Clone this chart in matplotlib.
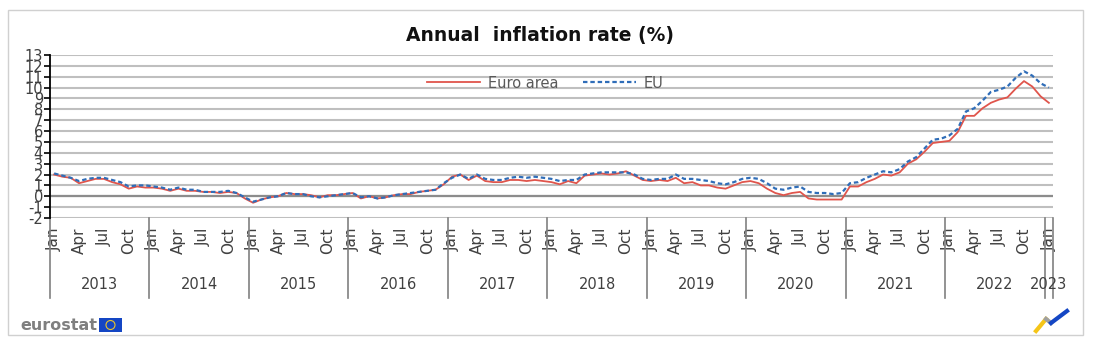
import matplotlib
matplotlib.use("Agg")
import matplotlib.pyplot as plt
from matplotlib.patches import Rectangle, Ellipse
from matplotlib.lines import Line2D

plt.rcParams["axes.unicode_minus"] = False

# annual HICP inflation, Jan 2013 - Jan 2023
years = [2013, 2014, 2015, 2016, 2017, 2018, 2019, 2020, 2021, 2022, 2023]
month_names = ["Jan", "Apr", "Jul", "Oct"]

euro_area = [
    2.0, 1.8, 1.7, 1.2, 1.4, 1.6, 1.6, 1.3, 1.1, 0.7, 0.9, 0.8,
    0.8, 0.7, 0.5, 0.7, 0.5, 0.5, 0.4, 0.4, 0.3, 0.4, 0.3, -0.2,
    -0.6, -0.3, -0.1, 0.0, 0.3, 0.2, 0.2, 0.1, -0.1, 0.1, 0.1, 0.2,
    0.3, -0.2, 0.0, -0.2, -0.1, 0.1, 0.2, 0.2, 0.4, 0.5, 0.6, 1.1,
    1.8, 2.0, 1.5, 1.9, 1.4, 1.3, 1.3, 1.5, 1.5, 1.4, 1.5, 1.4,
    1.3, 1.1, 1.4, 1.2, 1.9, 2.0, 2.1, 2.0, 2.1, 2.3, 1.9, 1.5,
    1.4, 1.5, 1.4, 1.7, 1.2, 1.3, 1.0, 1.0, 0.8, 0.7, 1.0, 1.3,
    1.4, 1.2, 0.7, 0.3, 0.1, 0.3, 0.4, -0.2, -0.3, -0.3, -0.3, -0.3,
    0.9, 0.9, 1.3, 1.6, 2.0, 1.9, 2.2, 3.0, 3.4, 4.1, 4.9, 5.0,
    5.1, 5.9, 7.4, 7.4, 8.1, 8.6, 8.9, 9.1, 9.9, 10.6, 10.1, 9.2,
    8.6,
]
eu = [
    2.1, 1.9, 1.7, 1.4, 1.6, 1.7, 1.7, 1.5, 1.3, 0.9, 1.0, 1.0,
    0.9, 0.8, 0.6, 0.8, 0.6, 0.6, 0.4, 0.4, 0.4, 0.5, 0.3, -0.1,
    -0.5, -0.3, -0.1, 0.0, 0.3, 0.2, 0.2, 0.0, -0.1, 0.0, 0.1, 0.2,
    0.3, -0.1, 0.0, -0.2, -0.1, 0.1, 0.2, 0.3, 0.4, 0.5, 0.6, 1.2,
    1.7, 2.0, 1.6, 2.0, 1.6, 1.5, 1.5, 1.7, 1.8, 1.7, 1.8, 1.7,
    1.6, 1.4, 1.5, 1.5, 2.0, 2.1, 2.2, 2.2, 2.2, 2.2, 2.0, 1.6,
    1.5, 1.6, 1.6, 2.0, 1.6, 1.6, 1.5, 1.4, 1.2, 1.1, 1.3, 1.6,
    1.7, 1.6, 1.2, 0.7, 0.6, 0.8, 0.9, 0.4, 0.3, 0.3, 0.2, 0.3,
    1.2, 1.3, 1.7, 2.0, 2.3, 2.2, 2.5, 3.2, 3.6, 4.4, 5.2, 5.3,
    5.6, 6.2, 7.8, 8.1, 8.8, 9.6, 9.8, 10.1, 10.9, 11.5, 11.1, 10.4,
    10.0,
]

W, H = 1095, 344
fig = plt.figure(figsize=(W / 100, H / 100), dpi=100)
ax = fig.add_axes([50 / W, 126 / H, 1003 / W, 163 / H])

x = list(range(len(euro_area)))
ax.plot(x, euro_area, color="#E0554C", lw=1.3, label="Euro area", zorder=3)
ax.plot(x, eu, color="#2F6DB8", lw=1.6, linestyle=(0, (2, 1.3)), label="EU", zorder=4)

ax.set_xlim(-0.5, len(x) - 0.5)
ax.set_ylim(-2, 13)
ax.set_yticks(range(-2, 14))
ax.yaxis.grid(True, color="#BFBFBF", lw=1.5)
ax.axhline(0, color="#8C8C8C", lw=1.6, zorder=2)
ax.set_axisbelow(True)
for s in ["top", "right", "bottom"]:
    ax.spines[s].set_visible(False)
ax.spines["left"].set_color("black")
ax.spines["left"].set_linewidth(1.3)
ax.tick_params(axis="y", length=4, width=1.2, color="black", labelsize=10.5,
               labelcolor="#404040", pad=1)

# month ticks every quarter
pos = [i for i in x if i % 3 == 0]
labs = [month_names[(i % 12) // 3] for i in pos]
ax.set_xticks(pos, labs, rotation=90, fontsize=11, color="#404040")
ax.tick_params(axis="x", length=0, pad=7)

# year separators and labels
tr = ax.get_xaxis_transform()
for k, yr in enumerate(years):
    start = 12 * k - 0.5
    ax.plot([start, start], [0, -0.49], transform=tr, color="#808080", lw=1.2, clip_on=False)
    end = min(start + 12, len(x) - 0.5)
    ax.text((start + end) / 2, -0.41, str(yr), transform=tr, ha="center", va="center",
            fontsize=10.5, color="#404040")
ax.plot([len(x) - 0.5] * 2, [0, -0.49], transform=tr, color="#808080", lw=1.2, clip_on=False)

leg = ax.legend(loc="center", bbox_to_anchor=(0.494, 0.828), ncol=2, frameon=False,
                fontsize=10.5, handlelength=3.6, columnspacing=1.7, handletextpad=0.55)
for t in leg.get_texts():
    t.set_color("#595959")

fig.text(0.493, 1 - 35 / H, "Annual  inflation rate (%)", ha="center", va="center",
         fontsize=13.5, weight="bold", color="#111111")

# outer frame
fig.add_artist(Rectangle((8 / W, 9 / H), 1075 / W, 325 / H, transform=fig.transFigure,
                         fill=False, edgecolor="#D0D0D0", lw=1))

# eurostat mark
fig.text(20 / W, 1 - 325 / H, "eurostat", fontsize=11.5, color="#7F7F7F", weight="bold",
         va="center", ha="left")
fig.add_artist(Rectangle((99 / W, 12 / H), 23 / W, 14 / H, transform=fig.transFigure,
                         facecolor="#1446C4", edgecolor="none"))
fig.add_artist(Ellipse((110.5 / W, 19 / H), 9 / W, 9 / H, transform=fig.transFigure,
                       fill=False, edgecolor="#E8C42A", lw=0.8))

# small logo bottom right
fig.add_artist(Line2D([1036 / W, 1046 / W], [13 / H, 25 / H], transform=fig.transFigure,
                      color="#F5C518", lw=3))
fig.add_artist(Line2D([1046 / W, 1051 / W], [25 / H, 21 / H], transform=fig.transFigure,
                      color="#A0A0A0", lw=3))
fig.add_artist(Line2D([1051 / W, 1067 / W], [21 / H, 33 / H], transform=fig.transFigure,
                      color="#1446C4", lw=3))

fig.savefig("out.png", dpi=100)
